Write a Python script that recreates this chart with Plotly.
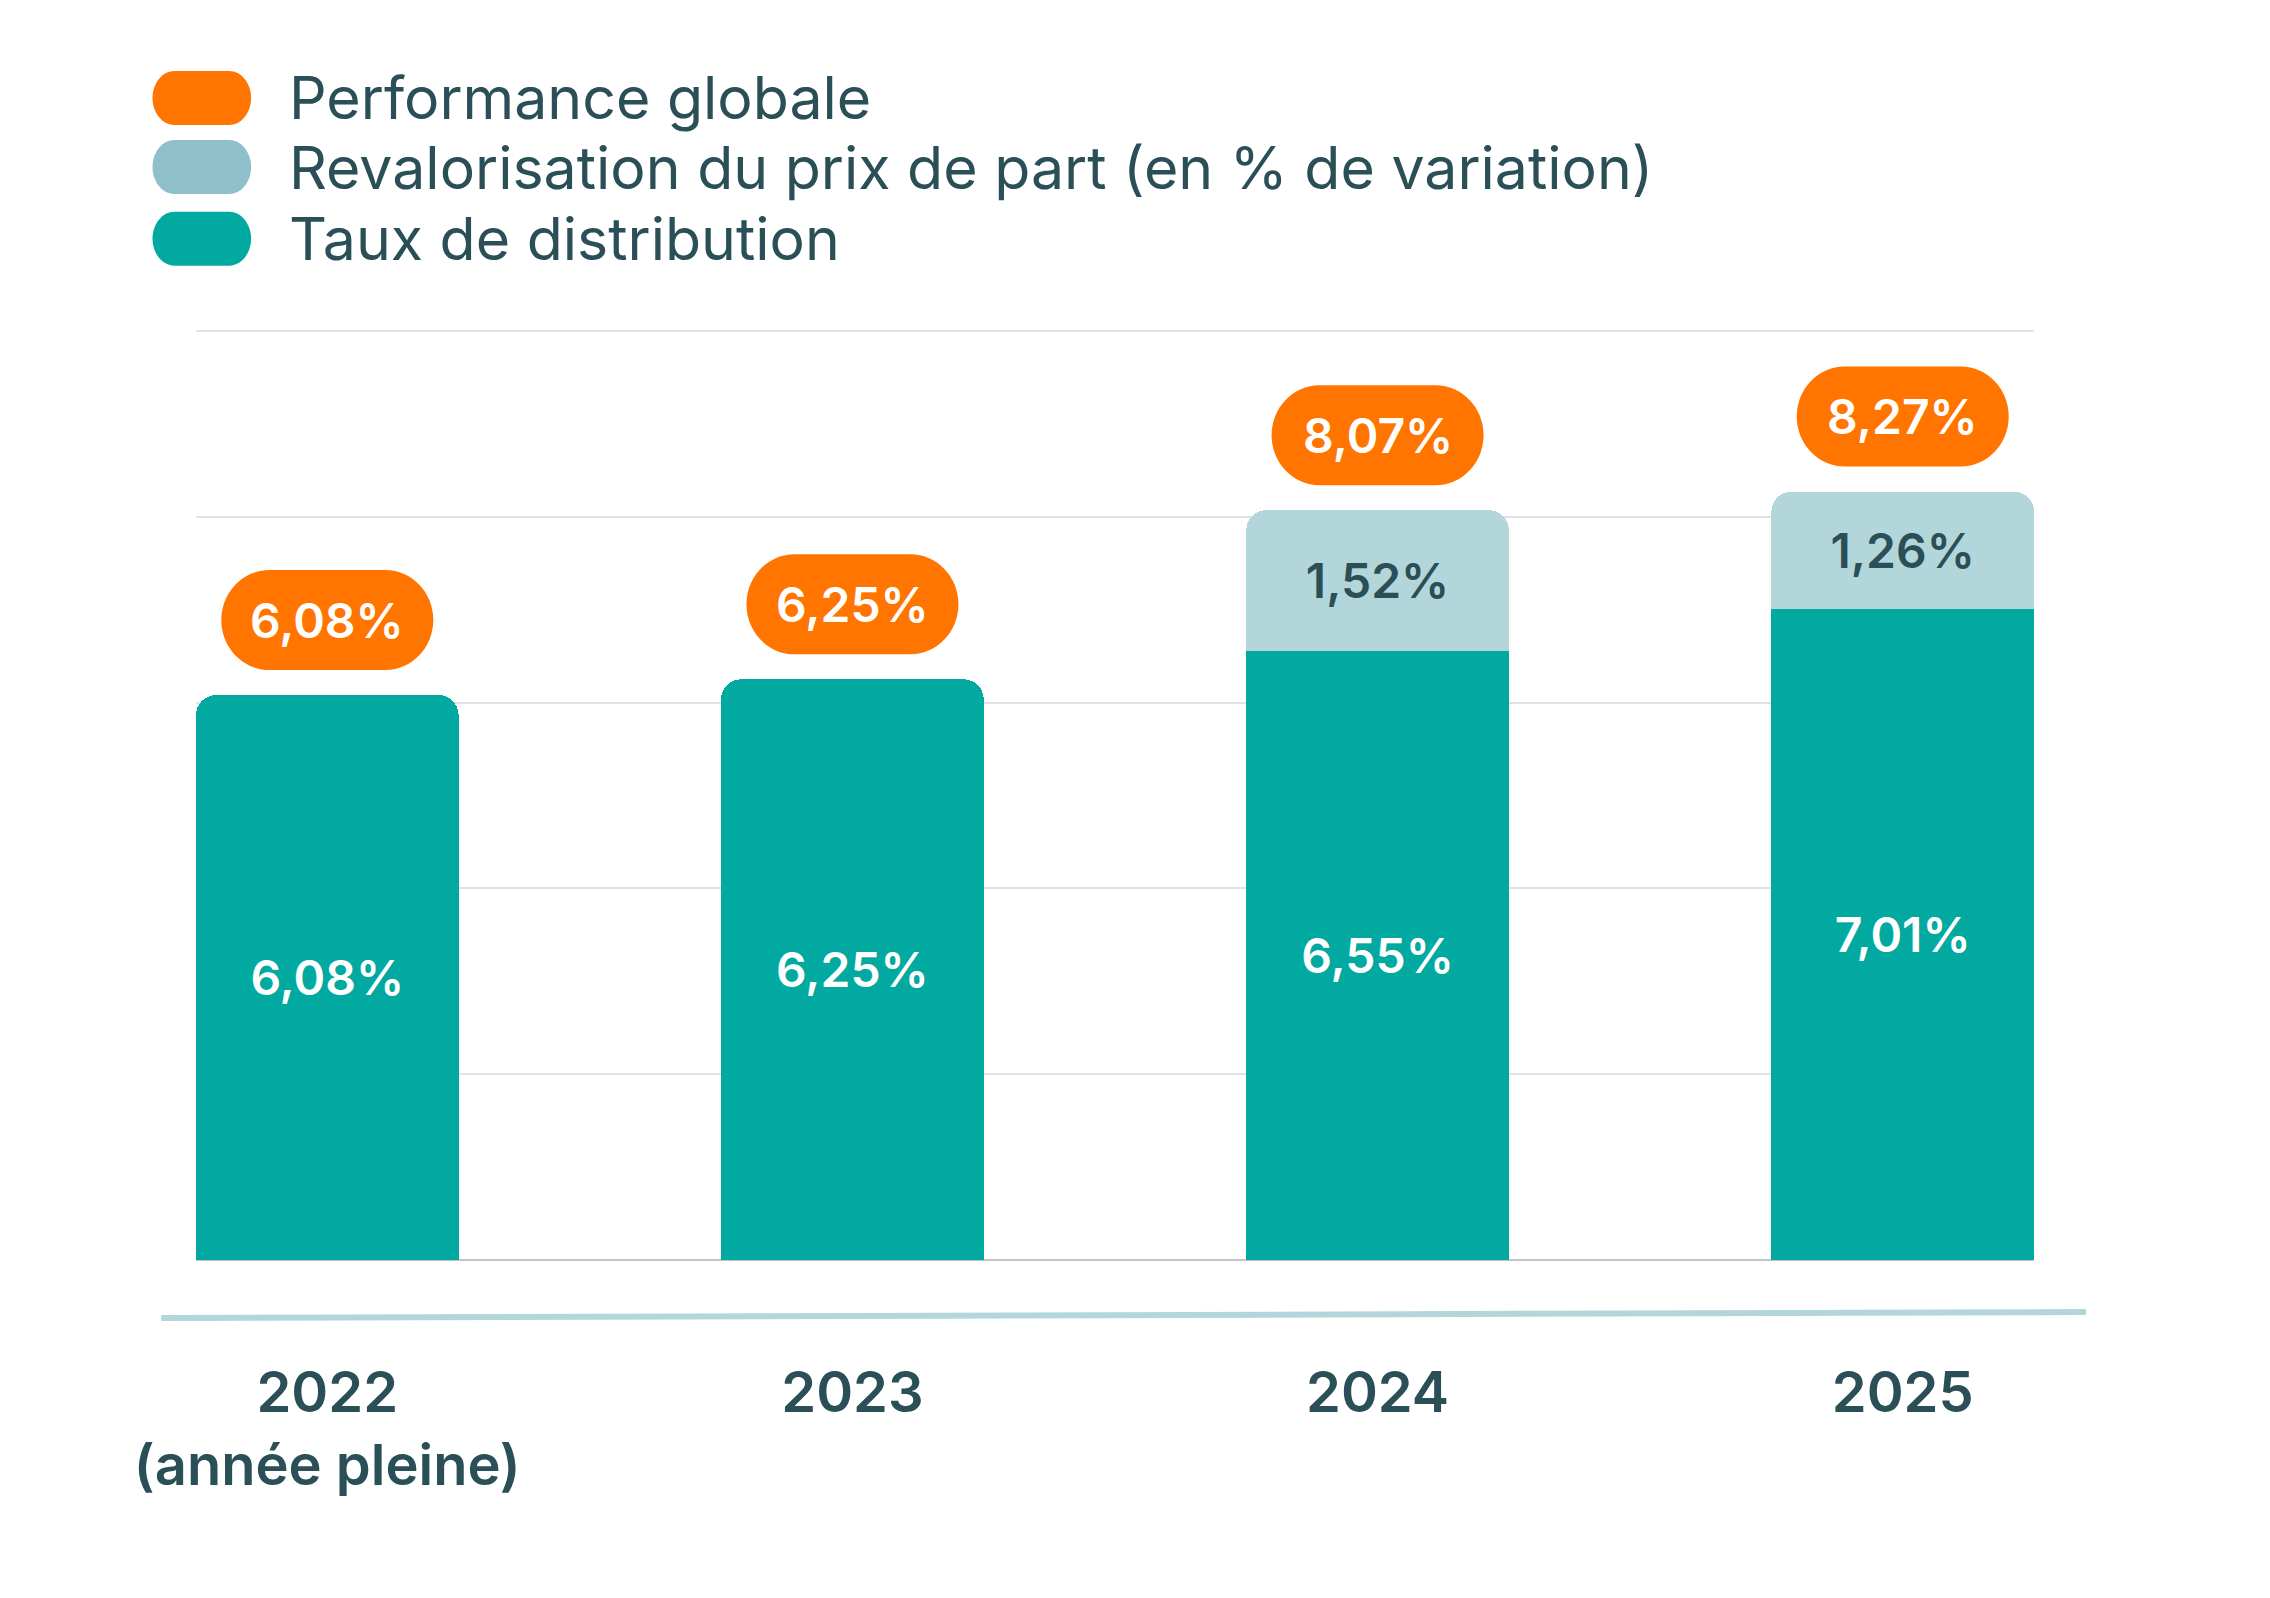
import plotly.graph_objects as go

# ---------------- data ----------------
years = ["2022<br>(année pleine)", "2023", "2024", "2025"]
taux_distribution = [6.08, 6.25, 6.55, 7.01]
revalorisation = [None, None, 1.52, 1.26]
performance_globale = [6.08, 6.25, 8.07, 8.27]
legend_labels = [
    "Performance globale",
    "Revalorisation du prix de part (en % de variation)",
    "Taux de distribution",
]

# ---------------- style ----------------
TEAL = "#02A9A0"
LIGHT = "#B3D6DA"
LIGHT_LEG = "#8FBFCB"
ORANGE = "#FF7500"
DARK = "#2A4F57"
FONT = "Inter"

W, H = 2270, 1598
L, R, T, B = 195.5, 236, 328.6, 338.4
PW = W - L - R
PH = H - T - B


def px(x):
    return (x - L) / PW


def py(y):
    return (H - B - y) / PH


def fmt(v):
    return "" if v is None else f"{v:.2f}".replace(".", ",") + "%"


def rounded_path(w, h, rx, ry, dy=0.0):
    k = 0.5523
    x0, x1 = -w / 2, w / 2
    y0, y1 = dy - h / 2, dy + h / 2
    p = [
        f"M{x0 + rx},{y0}",
        f"L{x1 - rx},{y0}",
        f"C{x1 - rx + k * rx},{y0} {x1},{y0 + ry - k * ry} {x1},{y0 + ry}",
        f"L{x1},{y1 - ry}",
        f"C{x1},{y1 - ry + k * ry} {x1 - rx + k * rx},{y1} {x1 - rx},{y1}",
        f"L{x0 + rx},{y1}",
        f"C{x0 + rx - k * rx},{y1} {x0},{y1 - ry + k * ry} {x0},{y1 - ry}",
        f"L{x0},{y0 + ry}",
        f"C{x0},{y0 + ry - k * ry} {x0 + rx - k * rx},{y0} {x0 + rx},{y0}",
        "Z",
    ]
    return " ".join(p)


pos = list(range(len(years)))

fig = go.Figure()
fig.add_trace(go.Bar(
    x=pos, y=taux_distribution, name=legend_labels[2],
    marker=dict(color=TEAL, line=dict(width=0)),
    width=0.5,
    text=[fmt(v) for v in taux_distribution],
    textposition="inside", insidetextanchor="middle", textangle=0,
    textfont=dict(family=FONT, size=48, color="white", weight=600),
    hoverinfo="skip",
))
fig.add_trace(go.Bar(
    x=pos, y=revalorisation, name=legend_labels[1],
    marker=dict(color=LIGHT, line=dict(width=0)),
    width=0.5,
    text=[fmt(v) for v in revalorisation],
    textposition="inside", insidetextanchor="middle", textangle=0,
    textfont=dict(family=FONT, size=48, color=DARK, weight=600),
    hoverinfo="skip",
))

shapes = []
annotations = []

# orange total pills above bars
PILL_W, PILL_H, PILL_OFF = 212, 100, 75
for i, v in zip(pos, performance_globale):
    shapes.append(dict(
        type="path", xref="x", yref="y",
        xsizemode="pixel", ysizemode="pixel", xanchor=i, yanchor=v,
        path=rounded_path(PILL_W, PILL_H, 48, PILL_H / 2, PILL_OFF),
        fillcolor=ORANGE, line=dict(width=0), layer="above",
    ))
    annotations.append(dict(
        x=i, y=v, xref="x", yref="y", yshift=PILL_OFF,
        text=fmt(v), showarrow=False, xanchor="center", yanchor="middle",
        font=dict(family=FONT, size=48, color="white", weight=600),
    ))

# custom legend
leg_colors = [ORANGE, LIGHT_LEG, TEAL]
leg_y = [97.5, 166.7, 238.3]
for lab, col, yy in zip(legend_labels, leg_colors, leg_y):
    shapes.append(dict(
        type="path", xref="paper", yref="paper",
        xsizemode="pixel", ysizemode="pixel", xanchor=px(201.3), yanchor=py(yy),
        path=rounded_path(98.6, 54, 22, 27),
        fillcolor=col, line=dict(width=0), layer="above",
    ))
    annotations.append(dict(
        x=px(287), y=py(yy), xref="paper", yref="paper",
        text=lab, showarrow=False, xanchor="left", yanchor="middle",
        font=dict(family=FONT, size=59, color=DARK, weight=400),
    ))

# decorative axis line under the chart
shapes.append(dict(
    type="line", xref="paper", yref="paper",
    x0=px(160.7), y0=py(1317.7), x1=px(2086), y1=py(1311.7),
    line=dict(color=LIGHT, width=6), layer="above",
))

fig.update_layout(
    width=W, height=H,
    margin=dict(l=L, r=R, t=T, b=B, pad=0),
    barmode="stack",
    barcornerradius=20,
    showlegend=False,
    plot_bgcolor="white", paper_bgcolor="white",
    font=dict(family=FONT, color=DARK),
    shapes=shapes, annotations=annotations,
    xaxis=dict(
        tickmode="array", tickvals=pos, ticktext=years,
        range=[-0.25, 3.25], showgrid=False, zeroline=False, showline=False,
        ticks="", ticklabelstandoff=95,
        tickfont=dict(family=FONT, size=56, color=DARK, weight=600),
    ),
    yaxis=dict(
        range=[0, 10.02], tick0=0, dtick=2, showticklabels=False,
        gridcolor="#E2E2E2", gridwidth=1.5,
        zeroline=True, zerolinecolor="#C4C4C4", zerolinewidth=2,
        showline=False,
    ),
)

fig.write_html(
    "out.html",
    config={"displayModeBar": False},
    post_script="document.body.style.margin='0px';",
)
